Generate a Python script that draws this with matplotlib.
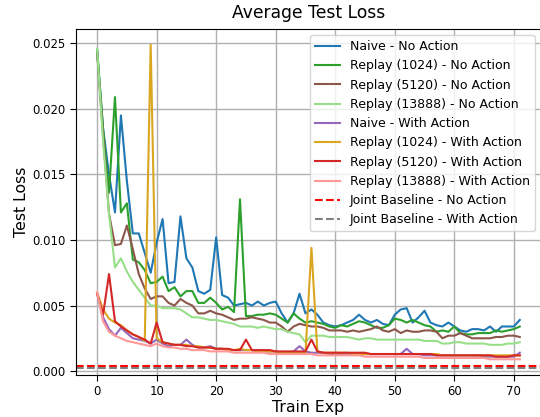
import matplotlib.pyplot as plt
import numpy as np

exps = np.arange(72)

# losses, in units of 1e-3
naive_no = [24.5, 18.5, 15.0, 12.1, 19.5, 14.5, 10.5, 10.5, 9.0, 7.5,
            9.8, 11.6, 6.7, 6.8, 11.8, 8.6, 7.9, 6.1, 5.9, 6.2,
            10.2, 5.8, 5.6, 5.0, 5.1, 5.2, 5.0, 5.3, 5.0, 5.2,
            5.3, 4.4, 3.7, 4.4, 5.9, 4.4, 4.7, 4.3, 3.7, 3.5,
            3.4, 3.5, 3.7, 3.9, 4.3, 3.9, 3.7, 3.9, 3.6, 3.5,
            4.3, 4.7, 4.8, 3.7, 4.1, 4.6, 3.7, 3.5, 3.4, 3.7,
            3.4, 3.1, 3.0, 3.2, 3.2, 3.1, 3.4, 3.0, 3.4, 3.4,
            3.4, 3.9]
r1024_no = [24.5, 18.5, 13.6, 20.9, 12.1, 12.8, 8.5, 8.3, 7.7, 6.7,
            6.8, 7.2, 6.1, 6.4, 5.7, 6.1, 6.1, 5.2, 5.2, 5.6,
            5.2, 4.7, 4.9, 4.5, 13.1, 4.2, 4.2, 4.3, 4.3, 4.4,
            4.3, 4.0, 3.7, 4.4, 4.0, 3.7, 3.8, 3.7, 3.6, 3.4,
            3.3, 3.5, 3.4, 3.6, 3.8, 3.7, 3.5, 3.3, 3.3, 3.5,
            4.0, 3.9, 3.7, 3.9, 3.7, 3.5, 3.4, 3.0, 3.1, 3.0,
            3.4, 2.9, 2.8, 2.8, 2.9, 2.9, 2.9, 3.1, 3.0, 3.1,
            3.2, 3.4]
r5120_no = [24.3, 18.0, 12.0, 9.6, 9.7, 11.1, 9.3, 7.4, 6.3, 5.5,
            5.7, 5.7, 5.2, 5.0, 5.5, 5.2, 5.0, 4.4, 4.4, 4.6,
            4.4, 4.3, 4.1, 3.9, 4.0, 4.0, 4.1, 4.0, 3.9, 3.7,
            3.7, 3.4, 3.0, 3.4, 3.6, 3.5, 3.4, 3.4, 3.3, 3.1,
            3.1, 3.1, 3.0, 3.1, 3.0, 3.1, 3.2, 3.4, 3.1, 3.0,
            3.2, 2.9, 3.1, 3.0, 3.0, 3.1, 3.1, 3.0, 2.5, 2.7,
            2.7, 2.9, 2.7, 2.5, 2.5, 2.5, 2.5, 2.6, 2.6, 2.7,
            2.7, 2.6]
r13888_no = [24.6, 17.5, 12.0, 7.9, 8.6, 7.6, 6.8, 6.2, 5.6, 5.0,
             5.0, 4.8, 4.8, 4.8, 4.7, 4.4, 4.1, 4.1, 4.0, 3.9,
             3.9, 3.8, 3.7, 3.6, 3.4, 3.4, 3.4, 3.3, 3.4, 3.3,
             3.2, 3.2, 3.0, 2.9, 2.8, 2.2, 2.7, 2.7, 2.7, 2.6,
             2.6, 2.6, 2.6, 2.5, 2.4, 2.5, 2.5, 2.4, 2.4, 2.4,
             2.4, 2.4, 2.4, 2.4, 2.4, 2.3, 2.3, 2.3, 2.1, 2.1,
             2.2, 2.2, 2.1, 2.1, 2.1, 2.1, 2.0, 2.0, 2.0, 2.1,
             2.1, 2.2]
naive_with = [5.9, 4.1, 3.2, 2.7, 3.3, 2.9, 2.5, 2.4, 2.3, 2.1,
              2.4, 2.1, 1.9, 2.0, 2.0, 2.4, 2.0, 1.8, 1.8, 1.9,
              1.7, 1.7, 1.6, 1.6, 1.6, 1.6, 1.6, 1.5, 1.5, 1.5,
              1.5, 1.4, 1.4, 1.5, 1.9, 1.5, 1.4, 1.4, 1.4, 1.3,
              1.3, 1.3, 1.3, 1.3, 1.3, 1.3, 1.3, 1.3, 1.3, 1.3,
              1.3, 1.3, 1.7, 1.3, 1.3, 1.2, 1.2, 1.2, 1.2, 1.2,
              1.2, 1.2, 1.2, 1.2, 1.2, 1.1, 1.1, 1.1, 1.1, 1.1,
              1.1, 1.4]
r1024_with = [6.0, 4.7, 4.0, 3.7, 3.5, 3.1, 2.8, 2.6, 2.3, 24.9,
              2.5, 2.2, 2.1, 2.0, 2.0, 2.0, 1.9, 1.9, 1.8, 1.8,
              1.7, 1.7, 1.6, 1.6, 1.7, 1.6, 1.6, 1.5, 1.5, 1.5,
              1.5, 1.4, 1.4, 1.4, 1.4, 1.4, 9.4, 1.5, 1.4, 1.4,
              1.4, 1.4, 1.4, 1.3, 1.3, 1.3, 1.3, 1.3, 1.3, 1.3,
              1.3, 1.3, 1.3, 1.3, 1.3, 1.3, 1.3, 1.3, 1.2, 1.2,
              1.2, 1.2, 1.2, 1.2, 1.2, 1.2, 1.2, 1.2, 1.2, 1.2,
              1.2, 1.2]
r5120_with = [5.9, 4.3, 7.4, 3.8, 3.4, 3.1, 2.8, 2.6, 2.4, 2.1,
              3.7, 2.2, 2.1, 2.0, 2.0, 1.9, 1.9, 1.8, 1.8, 1.8,
              1.7, 1.7, 1.7, 1.6, 1.6, 2.4, 1.6, 1.6, 1.6, 1.6,
              1.5, 1.5, 1.5, 1.5, 1.5, 1.5, 2.4, 1.5, 1.4, 1.4,
              1.4, 1.4, 1.4, 1.4, 1.4, 1.4, 1.3, 1.3, 1.3, 1.3,
              1.3, 1.3, 1.3, 1.3, 1.3, 1.3, 1.3, 1.2, 1.2, 1.2,
              1.2, 1.2, 1.2, 1.2, 1.2, 1.2, 1.2, 1.1, 1.1, 1.1,
              1.2, 1.2]
r13888_with = [6.0, 3.8, 3.0, 2.7, 2.5, 2.3, 2.2, 2.1, 2.0, 1.9,
               2.1, 1.9, 1.8, 1.8, 1.7, 1.7, 1.6, 1.6, 1.6, 1.5,
               1.5, 1.5, 1.5, 1.4, 1.4, 1.4, 1.4, 1.4, 1.4, 1.3,
               1.3, 1.3, 1.3, 1.3, 1.3, 1.3, 1.3, 1.2, 1.2, 1.2,
               1.2, 1.2, 1.2, 1.2, 1.2, 1.1, 1.1, 1.1, 1.1, 1.1,
               1.1, 1.1, 1.1, 1.1, 1.1, 1.0, 1.0, 1.0, 1.0, 1.0,
               1.0, 1.0, 1.0, 1.0, 1.0, 1.0, 0.9, 0.9, 0.9, 0.9,
               0.9, 0.9]
joint_no = 0.40
joint_with = 0.25

series = [
    ('Naive - No Action', naive_no, 'tab:blue'),
    ('Replay (1024) - No Action', r1024_no, 'tab:green'),
    ('Replay (5120) - No Action', r5120_no, 'tab:brown'),
    ('Replay (13888) - No Action', r13888_no, '#98df8a'),
    ('Naive - With Action', naive_with, 'tab:purple'),
    ('Replay (1024) - With Action', r1024_with, 'goldenrod'),
    ('Replay (5120) - With Action', r5120_with, 'tab:red'),
    ('Replay (13888) - With Action', r13888_with, '#ff9896'),
]

fig = plt.figure(figsize=(5.4, 4.17), dpi=100)
ax = fig.add_axes([0.1407, 0.1007, 0.861, 0.830])

for label, vals, col in series:
    ax.plot(exps, np.array(vals) * 1e-3, color=col, lw=1.5, label=label)
ax.axhline(joint_no * 1e-3, color='red', ls='--', lw=1.5, label='Joint Baseline - No Action')
ax.axhline(joint_with * 1e-3, color='gray', ls='--', lw=1.5, label='Joint Baseline - With Action')

ax.set_title('Average Test Loss', fontsize=12.3, pad=8)
ax.set_xlabel('Train Exp', fontsize=11.3, labelpad=1)
ax.set_ylabel('Test Loss', fontsize=11.3, labelpad=2)
ax.set_xlim(-3.55, 74.55)
ax.set_ylim(-0.0003, 0.0261)
ax.set_yticks([0, 0.005, 0.01, 0.015, 0.02, 0.025])
ax.yaxis.set_major_formatter(plt.FormatStrFormatter('%.3f'))
ax.grid(True, color='#b0b0b0', lw=1)
ax.tick_params(labelsize=8.4, length=4)
ax.legend(loc='upper right', fontsize=9)

fig.savefig('out.png', dpi=100)
